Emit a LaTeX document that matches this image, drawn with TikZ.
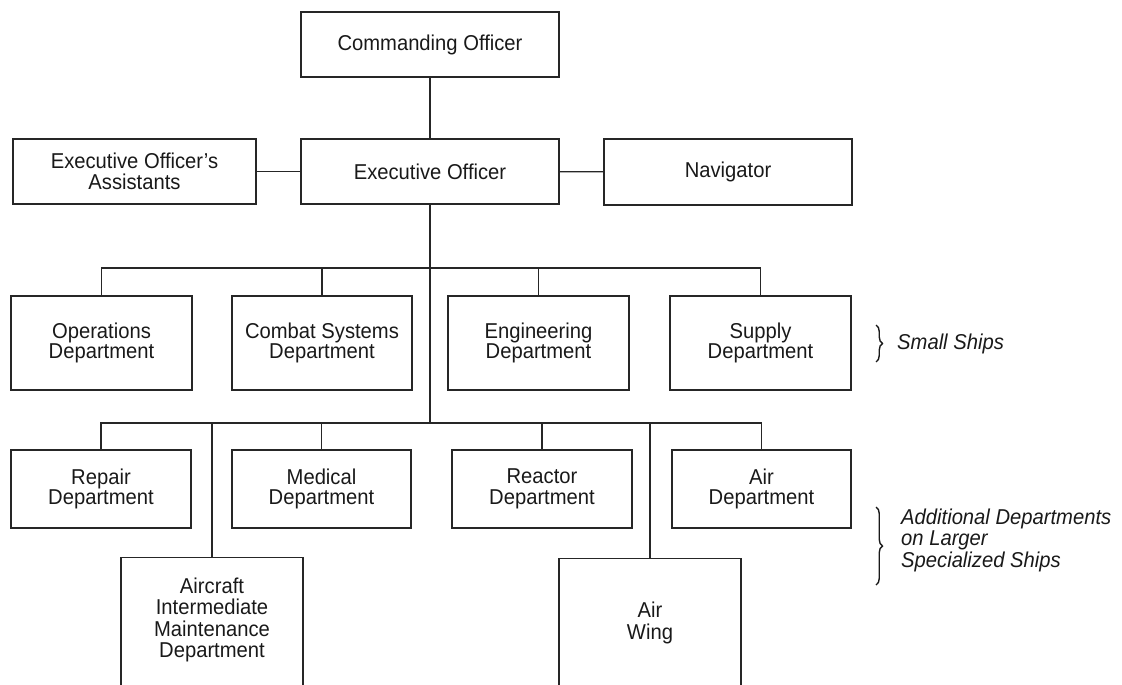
\documentclass[tikz,border=0pt]{standalone}
\usepackage{fontspec}
\setmainfont[FakeStretch=0.94]{Liberation Sans}
\usetikzlibrary{decorations.pathreplacing}
\begin{document}
\begin{tikzpicture}[x=1pt,y=-1pt,
  box/.style={draw=black!85, line width=1.3pt, inner sep=0pt, align=center,
    font=\fontsize{21.5}{20.5}\selectfont, text=black!90},
  txt/.style={inner sep=0pt, align=center, font=\fontsize{21.5}{21.5}\selectfont, text=black!90},
  conn/.style={draw=black!85, line width=1.3pt},
  note/.style={inner sep=0pt, align=left, anchor=west,
    font=\fontsize{21.5}{21.5}\selectfont\itshape, text=black!90},
  bracestyle/.style={draw=black!90, line width=1.4pt, decorate,
    decoration={brace, amplitude=6.5pt}}]
\useasboundingbox (0,0) rectangle (1122,685);
\clip (0,0) rectangle (1122,685);

% top levels
\node[box, minimum width=258, minimum height=65] (co) at (430,44.5) {Commanding Officer};
\node[box, minimum width=258, minimum height=65] (xo) at (430,171.5) {Executive Officer};
\node[box, minimum width=243, minimum height=65] (xa) at (134.5,171.5) {Executive Officer's\\Assistants};
\node[box, minimum width=248, minimum height=66] (nav) at (728,172) {Navigator};

% row 1
\node[box, minimum width=181, minimum height=94] (ops) at (101.5,343) {Operations\\Department};
\node[box, minimum width=180, minimum height=94] (cs) at (322,343) {Combat Systems\\Department};
\node[box, minimum width=181, minimum height=94] (eng) at (538.5,343) {Engineering\\Department};
\node[box, minimum width=181, minimum height=94] (sup) at (760.5,343) {Supply\\Department};

% row 2
\node[box, minimum width=180, minimum height=78] (rep) at (101,489) {Repair\\Department};
\node[box, minimum width=179, minimum height=78] (med) at (321.5,489) {Medical\\Department};
\node[box, minimum width=180, minimum height=78] (reac) at (542,489) {Reactor\\Department};
\node[box, minimum width=179, minimum height=78] (air) at (761.5,489) {Air\\Department};

% bottom (cut off by the page edge)
\node[box, minimum width=182, minimum height=150, anchor=north] (aimd) at (212,557) {};
\node[txt] (aimdt) at (212,620) {Aircraft\\Intermediate\\Maintenance\\Department};
\node[box, minimum width=182, minimum height=150, anchor=north] (aw) at (650,558) {};
\node[txt] (awt) at (650,623) {Air\\Wing};

% buses
\coordinate (b1) at (430,268);
\coordinate (b2) at (430,423);

% connectors
\draw[conn] (co) -- (xo);
\draw[conn] (xa) -- (xo);
\draw[conn] (xo) -- (nav);
\draw[conn] (xo.south) -- (b2);
\draw[conn] (ops.north) |- (b1) -| (sup.north);
\draw[conn] (cs.north) -- (cs.north |- b1);
\draw[conn] (eng.north) -- (eng.north |- b1);
\draw[conn] (rep.north) |- (b2) -| (air.north);
\draw[conn] (med.north) -- (med.north |- b2);
\draw[conn] (reac.north) -- (reac.north |- b2);
\draw[conn] (aimd.north) -- (aimd.north |- b2);
\draw[conn] (aw.north) -- (aw.north |- b2);

% braces and notes
\coordinate (br1a) at (876,325);
\coordinate (br1b) at (876,362);
\draw[bracestyle] (br1a) -- (br1b);
\node[note] (ss) at (897,344) {Small Ships};
\coordinate (br2a) at (876,507);
\coordinate (br2b) at (876,585);
\draw[bracestyle] (br2a) -- (br2b);
\node[note] (ad) at (901,540) {Additional Departments\\on Larger\\Specialized Ships};
\end{tikzpicture}
\end{document}
